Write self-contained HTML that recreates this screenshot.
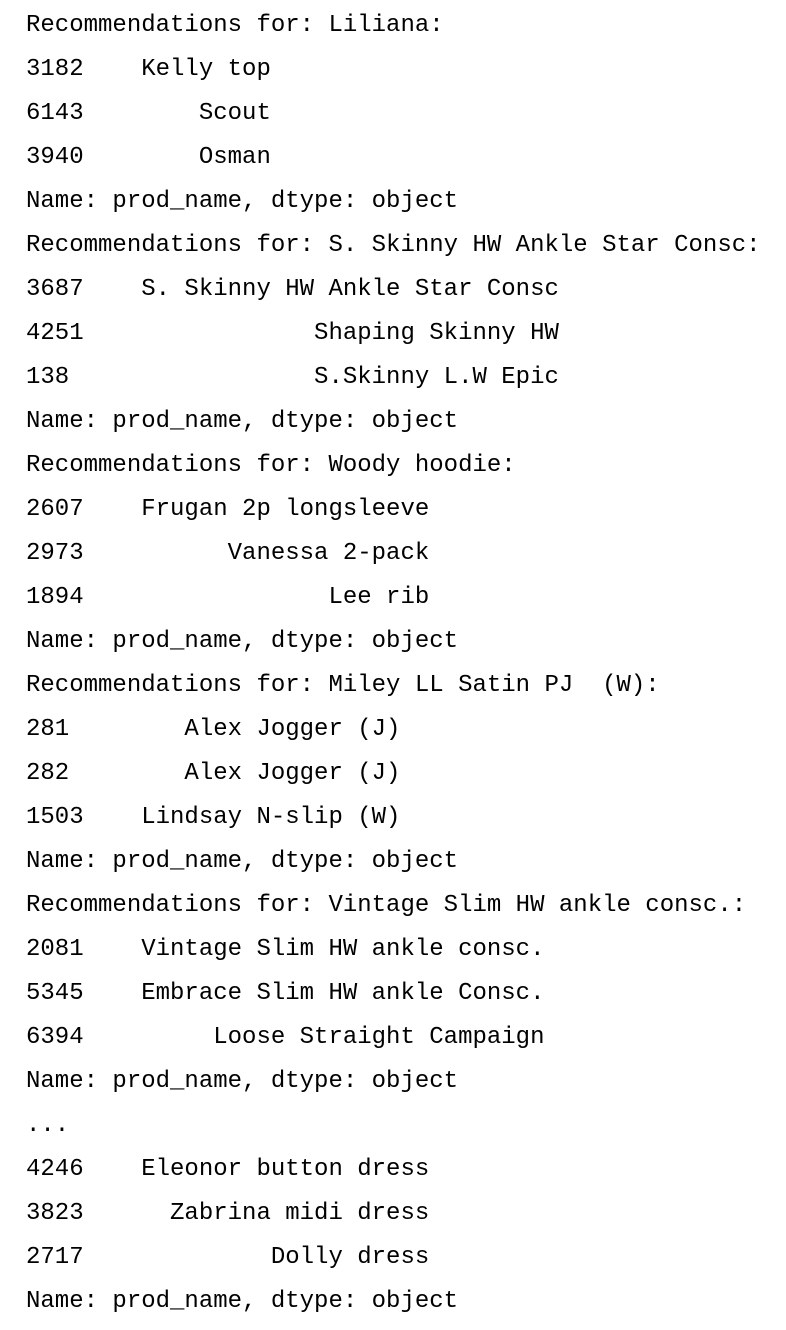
<!DOCTYPE html>
<html>
<head>
<meta charset="utf-8">
<style>
html,body{margin:0;padding:0;background:#fff;}
body{width:786px;height:1330px;overflow:hidden;}
pre{margin:0;padding:4px 0 0 26px;font-family:"Liberation Mono","DejaVu Sans Mono",monospace;font-size:24px;line-height:44px;color:#000;white-space:pre;}
</style>
</head>
<body>
<pre>Recommendations for: Liliana:
3182    Kelly top
6143        Scout
3940        Osman
Name: prod_name, dtype: object
Recommendations for: S. Skinny HW Ankle Star Consc:
3687    S. Skinny HW Ankle Star Consc
4251                Shaping Skinny HW
138                 S.Skinny L.W Epic
Name: prod_name, dtype: object
Recommendations for: Woody hoodie:
2607    Frugan 2p longsleeve
2973          Vanessa 2-pack
1894                 Lee rib
Name: prod_name, dtype: object
Recommendations for: Miley LL Satin PJ  (W):
281        Alex Jogger (J)
282        Alex Jogger (J)
1503    Lindsay N-slip (W)
Name: prod_name, dtype: object
Recommendations for: Vintage Slim HW ankle consc.:
2081    Vintage Slim HW ankle consc.
5345    Embrace Slim HW ankle Consc.
6394         Loose Straight Campaign
Name: prod_name, dtype: object
...
4246    Eleonor button dress
3823      Zabrina midi dress
2717             Dolly dress
Name: prod_name, dtype: object</pre>
</body>
</html>
